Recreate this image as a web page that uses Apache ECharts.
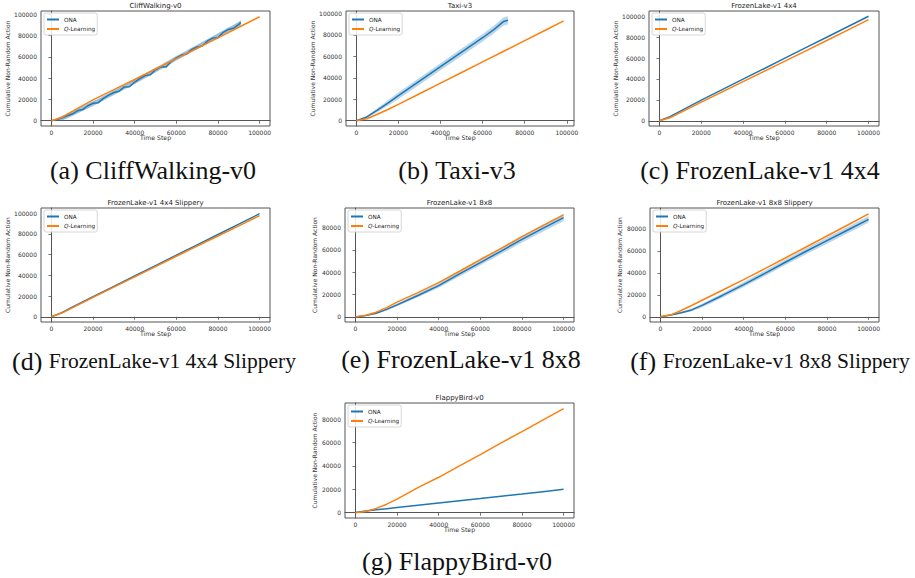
<!DOCTYPE html>
<html><head><meta charset="utf-8">
<script src="https://cdn.jsdelivr.net/npm/echarts@6/dist/echarts.min.js"></script>
<style>html,body{margin:0;padding:0;background:#fff}#c{width:915px;height:578px}</style>
</head><body><div id="c"></div>
<script>
// ---------- tick labels ----------
const xTicks = [0, 20000, 40000, 60000, 80000, 100000];
const yTicksFull = [0, 20000, 40000, 60000, 80000, 100000];
const yTicksShort = [0, 20000, 40000, 60000, 80000];

// ---------- titles & captions ----------
const panelTitles = ['CliffWalking-v0', 'Taxi-v3', 'FrozenLake-v1 4x4', 'FrozenLake-v1 4x4 Slippery',
  'FrozenLake-v1 8x8', 'FrozenLake-v1 8x8 Slippery', 'FlappyBird-v0'];
const captionTags = ['(a)', '(b)', '(c)', '(d)', '(e)', '(f)', '(g)'];
const captionTexts = ['CliffWalking-v0', 'Taxi-v3', 'FrozenLake-v1 4x4', 'FrozenLake-v1 4x4 Slippery',
  'FrozenLake-v1 8x8', 'FrozenLake-v1 8x8 Slippery', 'FlappyBird-v0'];
const xAxisName = 'Time Step';
const yAxisName = 'Cumulative Non-Random Action';

// ---------- shared time steps ----------
const steps = [0, 5000, 10000, 15000, 20000, 30000, 40000, 50000, 60000, 70000, 80000, 90000, 100000];

// (a) CliffWalking-v0
const cliffOnaX = [0, 2500, 5000, 7500, 10000, 12500, 15000, 17500, 20000, 22500, 25000, 27500, 30000, 32500, 35000, 37500, 40000, 42500, 45000, 47500, 50000, 52500, 55000, 57500, 60000, 62500, 65000, 67500, 70000, 72500, 75000, 77500, 80000, 82500, 85000, 87500, 90000, 91000];
const cliffOna = [0, 1000, 2500, 4600, 6200, 9300, 10400, 14000, 16400, 16900, 20900, 24000, 26500, 27600, 31700, 31800, 36300, 39600, 42300, 43200, 47800, 50600, 50300, 55400, 58900, 61600, 62700, 66900, 69200, 70100, 74900, 77600, 77800, 83000, 85700, 86700, 90500, 92000];
const cliffOnaLow = [0, 0, 200, 2100, 4500, 6800, 9100, 11500, 13900, 16400, 18900, 21500, 24000, 26600, 29200, 31800, 34400, 37100, 39800, 42500, 45300, 48100, 50800, 53600, 56400, 59100, 61700, 64400, 67100, 69800, 72400, 75100, 77800, 80500, 83200, 85800, 88500, 89500];
const cliffOnaHigh = [0, 2300, 4300, 6400, 8800, 11100, 13400, 15800, 18200, 20700, 23200, 25800, 28300, 30900, 33500, 36100, 38700, 41400, 44100, 46800, 49600, 52400, 55100, 57900, 60700, 63400, 66000, 68700, 71400, 74100, 76700, 79400, 82100, 84800, 87500, 90100, 92800, 94500];
const cliffQ = [0, 3000, 8700, 14100, 19500, 29100, 38700, 48500, 58300, 68000, 77800, 87700, 97600];

// (b) Taxi-v3
const taxiOnaX = [0, 5000, 10000, 15000, 20000, 30000, 40000, 50000, 60000, 65000, 68000, 70000, 72000];
const taxiOna = [0, 3500, 9800, 16500, 23300, 36800, 50300, 63800, 77300, 84300, 89300, 92500, 93500];
const taxiOnaLow = [0, 2700, 8000, 14000, 20300, 33600, 47000, 60400, 73800, 80700, 85600, 88700, 89700];
const taxiOnaHigh = [0, 4300, 11600, 19000, 26300, 40000, 53600, 67200, 80800, 87900, 93000, 96300, 97300];
const taxiQX = [0, 5000, 10000, 15000, 20000, 30000, 40000, 50000, 60000, 70000, 80000, 90000, 98500];
const taxiQ = [0, 1900, 6000, 10500, 15200, 25100, 35000, 44900, 54800, 64700, 74600, 84500, 93000];

// (c) FrozenLake-v1 4x4
const fl4Ona = [0, 4000, 9300, 14500, 19700, 29800, 39800, 49800, 59900, 69900, 79900, 89900, 100000];
const fl4Q = [0, 2800, 7800, 12800, 17800, 27600, 37400, 47200, 57000, 66900, 76800, 86700, 96700];

// (d) FrozenLake-v1 4x4 Slippery
const fl4sOna = [0, 4000, 9200, 14300, 19400, 29400, 39400, 49400, 59400, 69400, 79400, 89400, 99500];
const fl4sQ = [0, 3600, 8700, 13700, 18800, 28700, 38600, 48500, 58400, 68200, 78000, 87800, 97700];

// (e) FrozenLake-v1 8x8
const fl8Ona = [0, 1200, 3300, 6700, 10800, 19200, 28000, 38500, 48700, 59000, 69500, 79400, 89000];
const fl8OnaLow = [0, 1000, 2800, 5800, 9600, 17500, 26000, 36200, 46200, 56300, 66600, 76300, 85700];
const fl8OnaHigh = [0, 1400, 3800, 7600, 12000, 20900, 30000, 40800, 51200, 61700, 72400, 82500, 92300];
const fl8Q = [0, 1500, 4200, 8300, 13200, 21700, 30700, 40900, 51400, 61400, 71900, 81800, 91400];

// (f) FrozenLake-v1 8x8 Slippery
const fl8sOna = [0, 1600, 3700, 6300, 10400, 19700, 29400, 39400, 49700, 59700, 69400, 79100, 88800];
const fl8sOnaLow = [0, 1300, 3000, 5100, 8800, 17700, 27100, 36900, 47100, 57000, 66600, 76200, 85800];
const fl8sOnaHigh = [0, 1900, 4400, 7500, 12000, 21700, 31700, 41900, 52300, 62400, 72200, 82000, 91800];
const fl8sQ = [0, 1800, 5800, 10300, 15100, 24400, 33900, 43700, 53600, 63600, 73600, 83600, 93800];

// (g) FlappyBird-v0
const flappyOna = [300, 1400, 2500, 3500, 4500, 6400, 8300, 10200, 12100, 14100, 16000, 18000, 20000];
const flappyQ = [0, 1000, 3700, 7300, 11700, 21400, 30300, 40000, 49700, 59700, 69300, 79100, 89000];

// ---------- assemble panels ----------
const panelData = [
  {ona: [cliffOnaX, cliffOna], low: cliffOnaLow, high: cliffOnaHigh, q: [steps, cliffQ], yTicks: yTicksFull},
  {ona: [taxiOnaX, taxiOna], low: taxiOnaLow, high: taxiOnaHigh, q: [taxiQX, taxiQ], yTicks: yTicksFull},
  {ona: [steps, fl4Ona], q: [steps, fl4Q], yTicks: yTicksFull},
  {ona: [steps, fl4sOna], q: [steps, fl4sQ], yTicks: yTicksFull},
  {ona: [steps, fl8Ona], low: fl8OnaLow, high: fl8OnaHigh, q: [steps, fl8Q], yTicks: yTicksShort},
  {ona: [steps, fl8sOna], low: fl8sOnaLow, high: fl8sOnaHigh, q: [steps, fl8sQ], yTicks: yTicksShort},
  {ona: [steps, flappyOna], q: [steps, flappyQ], yTicks: yTicksShort}
];

// layout (pixels), axis ranges and styles
const layout = [
  {left: 41, top: 11, width: 229, height: 115, xMin: -5000, xMax: 105000, yMin: -5000, yMax: 103000, capX: 153, capY: 157, small: false, bandOp: 0.45},
  {left: 346, top: 11, width: 228, height: 115, xMin: -4900, xMax: 103400, yMin: -4900, yMax: 102200, capX: 457, capY: 157, small: false, bandOp: 0.3},
  {left: 649, top: 11, width: 230, height: 115, xMin: -5000, xMax: 105000, yMin: -5000, yMax: 105000, capX: 760, capY: 157, small: false, bandOp: 0.3},
  {left: 41, top: 208, width: 229, height: 114, xMin: -5000, xMax: 105000, yMin: -5000, yMax: 105000, capX: 154, capY: 348, small: true, bandOp: 0.3},
  {left: 345, top: 208, width: 229, height: 114, xMin: -5000, xMax: 105000, yMin: -4600, yMax: 97600, capX: 461, capY: 346, small: false, bandOp: 0.3},
  {left: 650, top: 208, width: 229, height: 114, xMin: -5000, xMax: 105000, yMin: -4700, yMax: 99100, capX: 770, capY: 348, small: true, bandOp: 0.3},
  {left: 345, top: 403, width: 229, height: 115, xMin: -5000, xMax: 105000, yMin: -4500, yMax: 93800, capX: 457, capY: 548, small: false, bandOp: 0.3}
];

const BLUE = '#1f77b4', ORANGE = '#ff7f0e', AX = '#555555', TXT = '#333333';
const SANS = 'DejaVu Sans', SERIF = 'Liberation Serif';
const pairs = (xs, ys) => xs.map((x, i) => [x, ys[i]]);
const fmt = v => String(v);

const grids = [], xAxes = [], yAxes = [], series = [], titles = [], legends = [];

function makeBandRender(opacity) {
  return function (params, api) {
    if (params.dataIndexInside !== 0) return null;
    const n = params.dataInsideLength;
    const pts = [];
    for (let k = 0; k < n; k++) pts.push(api.coord([api.value(0, k), api.value(2, k)]));
    for (let k = n - 1; k >= 0; k--) pts.push(api.coord([api.value(0, k), api.value(1, k)]));
    return {type: 'polygon', shape: {points: pts}, style: {fill: BLUE, opacity: opacity}, silent: true};
  };
}

layout.forEach((L, i) => {
  const D = panelData[i];
  grids.push({left: L.left, top: L.top, width: L.width, height: L.height, show: true,
    borderColor: AX, borderWidth: 1, backgroundColor: 'transparent', containLabel: false});
  xAxes.push({type: 'value', gridIndex: i, min: L.xMin, max: L.xMax,
    axisLine: {show: true, lineStyle: {color: AX, width: 1}},
    axisTick: {show: true, length: 3, customValues: xTicks, lineStyle: {color: AX, width: 0.8}},
    axisLabel: {customValues: xTicks, fontSize: 6, fontFamily: SANS, color: TXT, margin: 3, formatter: fmt},
    splitLine: {show: false}});
  yAxes.push({type: 'value', gridIndex: i, min: L.yMin, max: L.yMax,
    name: yAxisName, nameLocation: 'middle', nameGap: 28,
    nameTextStyle: {fontSize: 6, fontFamily: SANS, color: TXT},
    axisLine: {show: true, lineStyle: {color: AX, width: 1}},
    axisTick: {show: true, length: 3, customValues: D.yTicks, lineStyle: {color: AX, width: 0.8}},
    axisLabel: {customValues: D.yTicks, fontSize: 6, fontFamily: SANS, color: TXT, margin: 4, formatter: fmt},
    splitLine: {show: false}});

  if (D.low) {
    series.push({type: 'custom', name: 'ona-band-' + i, xAxisIndex: i, yAxisIndex: i, silent: true,
      clip: true, encode: {x: 0, y: [1, 2]}, renderItem: makeBandRender(L.bandOp),
      data: D.ona[0].map((x, k) => [x, D.low[k], D.high[k]])});
  }
  series.push({type: 'line', name: 'ONA', xAxisIndex: i, yAxisIndex: i, symbol: 'none',
    color: BLUE, lineStyle: {color: BLUE, width: 1.5}, data: pairs(D.ona[0], D.ona[1])});
  series.push({type: 'line', name: 'Q-Learning', xAxisIndex: i, yAxisIndex: i, symbol: 'none',
    color: ORANGE, lineStyle: {color: ORANGE, width: 1.5}, data: pairs(D.q[0], D.q[1])});

  // panel title
  titles.push({text: panelTitles[i], left: L.left + L.width / 2, top: L.top - 9, textAlign: 'center',
    padding: 0, textStyle: {fontSize: 7, fontWeight: 'normal', fontFamily: SANS, color: '#222'}});
  // x axis name
  titles.push({text: xAxisName, left: L.left + L.width / 2, top: L.top + L.height + 8.5, textAlign: 'center',
    padding: 0, textStyle: {fontSize: 6.2, fontWeight: 'normal', fontFamily: SANS, color: TXT}});
  // caption
  const bigSize = 26, restSize = L.small ? 21.5 : 26;
  titles.push({text: '{a|' + captionTags[i] + '} {b|' + captionTexts[i] + '}',
    left: L.capX, top: L.capY, textAlign: 'center', padding: 0,
    textStyle: {fontWeight: 'normal', fontFamily: SERIF, color: '#111', fontSize: bigSize,
      rich: {a: {fontSize: bigSize, fontFamily: SERIF, color: '#111'},
             b: {fontSize: restSize, fontFamily: SERIF, color: '#111'}}}});

  legends.push({show: true, orient: 'vertical', left: L.left + 3, top: L.top + 2,
    padding: [3, 2, 2.5, 3], itemGap: 2.5, itemWidth: 12, itemHeight: 2,
    borderColor: '#ccc', borderWidth: 0.8, borderRadius: 2, backgroundColor: 'rgba(255,255,255,0.85)',
    selectedMode: false,
    data: [{name: 'ONA', icon: 'rect', itemStyle: {color: BLUE}},
           {name: 'Q-Learning', icon: 'rect', itemStyle: {color: ORANGE}}],
    formatter: n => n === 'Q-Learning' ? '{i|Q}-Learning' : n,
    textStyle: {fontSize: 5.7, lineHeight: 7, fontFamily: SANS, color: '#222',
      rich: {i: {fontSize: 5.7, fontStyle: 'italic', fontFamily: SANS, color: '#222'}}}});
});

const chart = echarts.init(document.getElementById('c'), null, {renderer: 'svg', width: 915, height: 578});
chart.setOption({
  animation: false,
  backgroundColor: '#fff',
  textStyle: {fontFamily: SANS, color: TXT},
  title: titles,
  legend: legends,
  grid: grids,
  xAxis: xAxes,
  yAxis: yAxes,
  series: series
});
</script>
</body></html>
